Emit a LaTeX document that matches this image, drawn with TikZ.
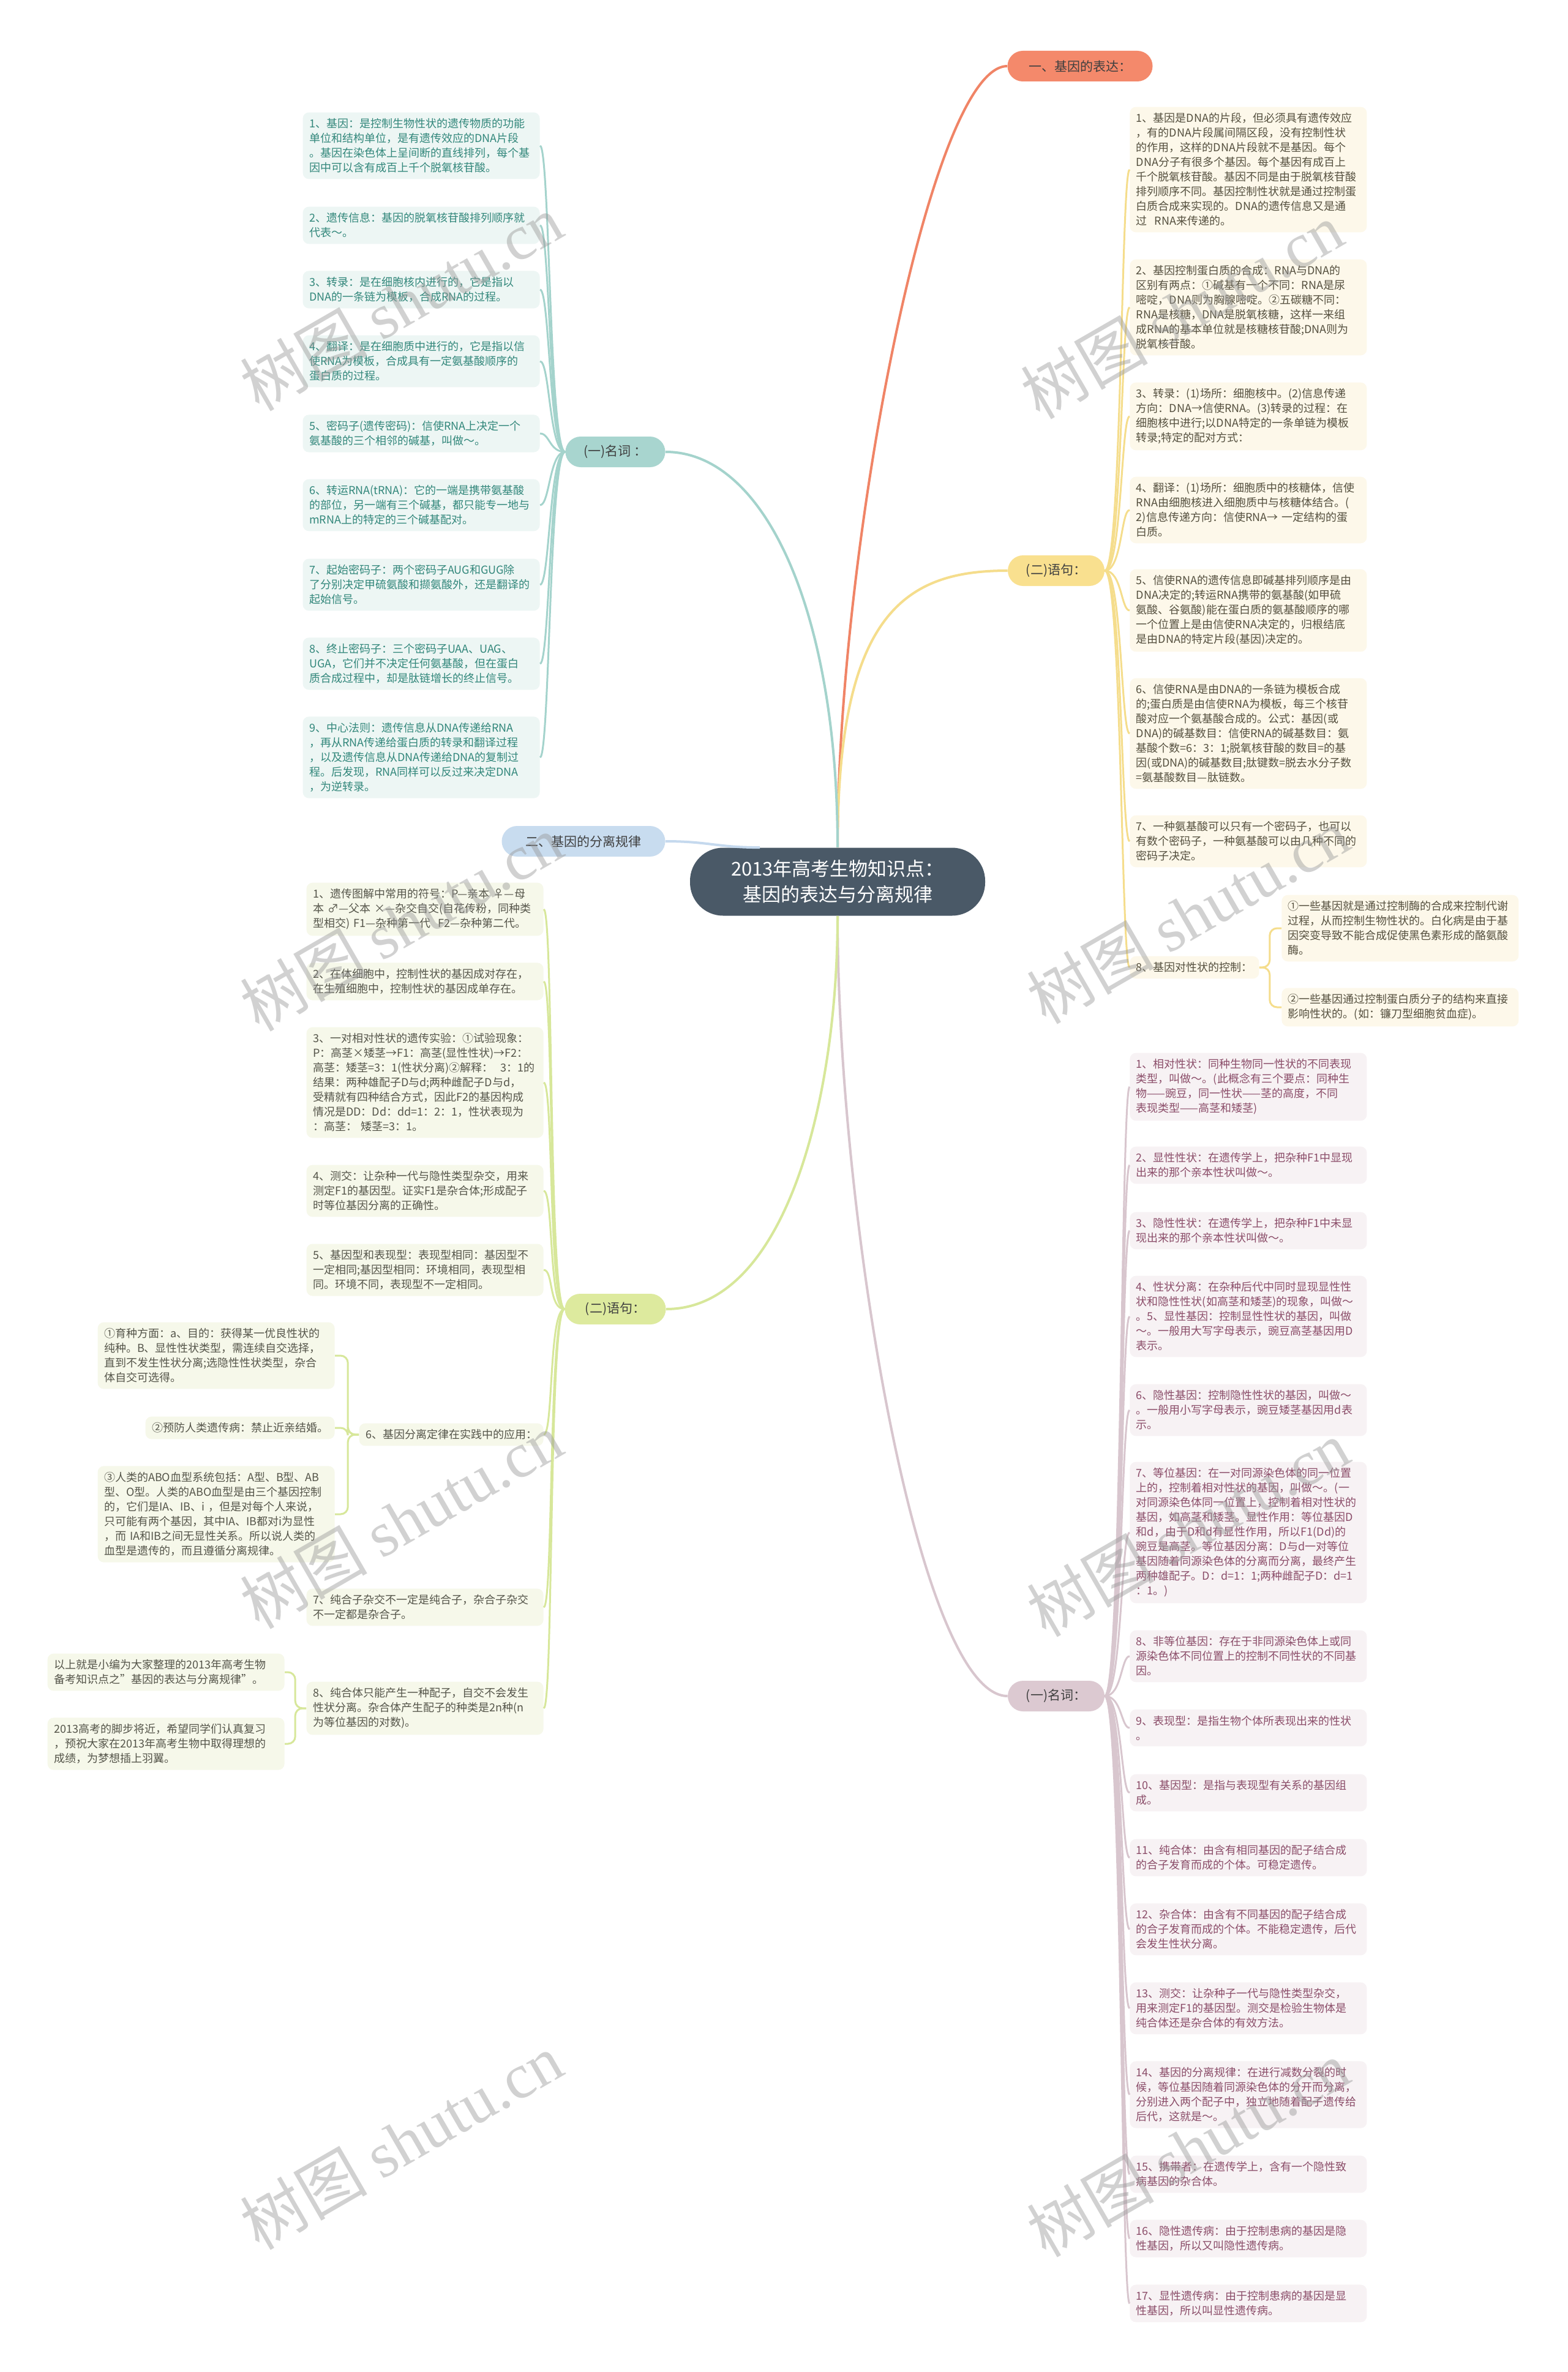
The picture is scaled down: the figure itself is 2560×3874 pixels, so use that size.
\documentclass[tikz,border=0pt]{standalone}
\usepackage{graphicx}
\usepackage{fontspec}
\setmainfont{Noto Sans CJK SC}
\newfontfamily\wmlatin{Liberation Serif}
\usetikzlibrary{calc}
\definecolor{cnode}{HTML}{4A5967}
\definecolor{orfill}{HTML}{F4896B}
\definecolor{orline}{HTML}{F08466}
\definecolor{yfill}{HTML}{F9E08F}
\definecolor{yline}{HTML}{F5DD8C}
\definecolor{ybox}{HTML}{FDF8EA}
\definecolor{ytext}{HTML}{55503F}
\definecolor{pfill}{HTML}{DCC9D1}
\definecolor{pline}{HTML}{D8C6CE}
\definecolor{pbox}{HTML}{F7F2F4}
\definecolor{ptext}{HTML}{8B4D69}
\definecolor{tfill}{HTML}{A8D5CF}
\definecolor{tline}{HTML}{A4D3CC}
\definecolor{tbox}{HTML}{EDF6F4}
\definecolor{ttext}{HTML}{32877B}
\definecolor{bfill}{HTML}{C8DCEF}
\definecolor{bline}{HTML}{C5D9EE}
\definecolor{gfill}{HTML}{DDEA9E}
\definecolor{gline}{HTML}{D7E79A}
\definecolor{gbox}{HTML}{F6F8EA}
\definecolor{gtext}{HTML}{55554A}
\definecolor{pilltext}{HTML}{3F3F3F}
\newcommand{\tridash}{\scalebox{0.67}[1]{———}}
\tikzset{
  boxbase/.style={rectangle, rounded corners=5pt, inner xsep=5.25pt, inner ysep=5pt,
    font=\fontsize{9pt}{12pt}\selectfont, align=left},
  wide/.style={text width=183pt},
  tealbox/.style={boxbase, fill=tbox, text=ttext},
  yelbox/.style={boxbase, fill=ybox, text=ytext},
  pinkbox/.style={boxbase, fill=pbox, text=ptext},
  greenbox/.style={boxbase, fill=gbox, text=gtext},
  pill/.style={rectangle, rounded corners=12.5pt, minimum height=25pt, inner sep=2pt,
    font=\fontsize{10.5pt}{12pt}\selectfont, text=pilltext},
  mainline/.style={line width=2pt},
  subline/.style={line width=1.5pt},
  wm/.style={text=black!40, opacity=0.45, rotate=30, font=\fontsize{52pt}{52pt}\selectfont},
}
\begin{document}
\begin{tikzpicture}[x=0.5pt,y=-0.5pt]
\path[use as bounding box, fill=white] (0,0) rectangle (2560,3874);

% ---------- center and main branches ----------
\node[rectangle, rounded corners=27pt, fill=cnode, text=white, minimum width=241pt, minimum height=55.5pt,
  align=center, font=\fontsize{15.5pt}{21pt}\selectfont] (c) at (1368,1440) {2013年高考生物知识点：\\基因的表达与分离规律};

\node[pill, fill=orfill, minimum width=118.5pt] (or) at (1764,108) {一、基因的表达：};
\node[pill, fill=yfill, minimum width=79pt] (ys) at (1725,932) {(二)语句：};
\node[pill, fill=pfill, minimum width=79pt] (pk) at (1725,2770) {(一)名词：};
\node[pill, fill=tfill, minimum width=81.5pt] (tl) at (1005,738) {(一)名词 ：};
\node[pill, fill=bfill, minimum width=133.5pt] (bl) at (953,1374) {二、基因的分离规律};
\node[pill, fill=gfill, minimum width=82.5pt] (gr) at (1005,2138) {(二)语句：};

\draw[mainline, orline] (c.north) .. controls +(0,-484) and +(-126,0) .. (or.west);
\draw[mainline, yline] (c.north) .. controls +(0,-384) and +(-166,0) .. (ys.west);
\draw[mainline, pline] (c.south) .. controls +(0,485) and +(-146,0) .. (pk.west);
\draw[mainline, tline] (c.north) .. controls +(0,-384) and +(163,0) .. (tl.east);
\draw[mainline, gline] (c.south) .. controls +(0,305) and +(193,0) .. (gr.east);
\coordinate (cbl) at ($(c.north)+(-127,0)$);
\draw[mainline, bline] (bl.east) .. controls +(70,0) and +(-70,0) .. (cbl);

% ---------- left teal: (一)名词 ----------
\node[tealbox, wide, anchor=east] (L1) at (882,238) {1、基因：是控制生物性状的遗传物质的功能\\单位和结构单位，是有遗传效应的DNA片段\\。基因在染色体上呈间断的直线排列，每个基\\因中可以含有成百上千个脱氧核苷酸。};
\node[tealbox, wide, anchor=east] (L2) at (882,368) {2、遗传信息：基因的脱氧核苷酸排列顺序就\\代表～。};
\node[tealbox, wide, anchor=east] (L3) at (882,473) {3、转录：是在细胞核内进行的，它是指以\\DNA的一条链为模板，合成RNA的过程。};
\node[tealbox, wide, anchor=east] (L4) at (882,590) {4、翻译：是在细胞质中进行的，它是指以信\\使RNA为模板，合成具有一定氨基酸顺序的\\蛋白质的过程。};
\node[tealbox, wide, anchor=east] (L5) at (882,708) {5、密码子(遗传密码)：信使RNA上决定一个\\氨基酸的三个相邻的碱基，叫做～。};
\node[tealbox, wide, anchor=east] (L6) at (882,825) {6、转运RNA(tRNA)：它的一端是携带氨基酸\\的部位，另一端有三个碱基，都只能专一地与\\mRNA上的特定的三个碱基配对。};
\node[tealbox, wide, anchor=east] (L7) at (882,955) {7、起始密码子：两个密码子AUG和GUG除\\了分别决定甲硫氨酸和撷氨酸外，还是翻译的\\起始信号。};
\node[tealbox, wide, anchor=east] (L8) at (882,1084) {8、终止密码子：三个密码子UAA、UAG、\\UGA，它们并不决定任何氨基酸，但在蛋白\\质合成过程中，却是肽链增长的终止信号。};
\node[tealbox, wide, anchor=east] (L9) at (882,1237) {9、中心法则：遗传信息从DNA传递给RNA\\，再从RNA传递给蛋白质的转录和翻译过程\\，以及遗传信息从DNA传递给DNA的复制过\\程。后发现，RNA同样可以反过来决定DNA\\，为逆转录。};
\foreach \n in {L1,L2,L3,L4,L5,L6,L7,L8,L9}
  \draw[subline, tline] (tl.west) .. controls +(-26,0) and +(16,0) .. (\n.east);

% ---------- right yellow: (二)语句 ----------
\node[yelbox, wide, anchor=west] (R1) at (1845,277) {1、基因是DNA的片段，但必须具有遗传效应\\，有的DNA片段属间隔区段，没有控制性状\\的作用，这样的DNA片段就不是基因。每个\\DNA分子有很多个基因。每个基因有成百上\\千个脱氧核苷酸。基因不同是由于脱氧核苷酸\\排列顺序不同。基因控制性状就是通过控制蛋\\白质合成来实现的。DNA的遗传信息又是通\\过\ \ RNA来传递的。};
\node[yelbox, wide, anchor=west] (R2) at (1845,502) {2、基因控制蛋白质的合成：RNA与DNA的\\区别有两点：①碱基有一个不同：RNA是尿\\嘧啶，DNA则为胸腺嘧啶。②五碳糖不同：\\RNA是核糖，DNA是脱氧核糖，这样一来组\\成RNA的基本单位就是核糖核苷酸;DNA则为\\脱氧核苷酸。};
\node[yelbox, wide, anchor=west] (R3) at (1845,680) {3、转录：(1)场所：细胞核中。(2)信息传递\\方向：DNA→信使RNA。(3)转录的过程：在\\细胞核中进行;以DNA特定的一条单链为模板\\转录;特定的配对方式：};
\node[yelbox, wide, anchor=west] (R4) at (1845,833) {4、翻译：(1)场所：细胞质中的核糖体，信使\\RNA由细胞核进入细胞质中与核糖体结合。(\\2)信息传递方向：信使RNA→ 一定结构的蛋\\白质。};
\node[yelbox, wide, anchor=west] (R5) at (1845,997) {5、信使RNA的遗传信息即碱基排列顺序是由\\DNA决定的;转运RNA携带的氨基酸(如甲硫\\氨酸、谷氨酸)能在蛋白质的氨基酸顺序的哪\\一个位置上是由信使RNA决定的，归根结底\\是由DNA的特定片段(基因)决定的。};
\node[yelbox, wide, anchor=west] (R6) at (1845,1198) {6、信使RNA是由DNA的一条链为模板合成\\的;蛋白质是由信使RNA为模板，每三个核苷\\酸对应一个氨基酸合成的。公式：基因(或\\DNA)的碱基数目：信使RNA的碱基数目：氨\\基酸个数=6：3：1;脱氧核苷酸的数目=的基\\因(或DNA)的碱基数目;肽键数=脱去水分子数\\=氨基酸数目—肽链数。};
\node[yelbox, wide, anchor=west] (R7) at (1845,1374) {7、一种氨基酸可以只有一个密码子，也可以\\有数个密码子，一种氨基酸可以由几种不同的\\密码子决定。};
\node[yelbox, anchor=west] (R8) at (1845,1580) {8、基因对性状的控制：};
\node[yelbox, wide, anchor=west] (R8a) at (2093,1516) {①一些基因就是通过控制酶的合成来控制代谢\\过程，从而控制生物性状的。白化病是由于基\\因突变导致不能合成促使黑色素形成的酪氨酸\\酶。};
\node[yelbox, wide, anchor=west] (R8b) at (2093,1645) {②一些基因通过控制蛋白质分子的结构来直接\\影响性状的。(如：镰刀型细胞贫血症)。};
\foreach \n in {R1,R2,R3,R4,R5,R6,R7,R8}
  \draw[subline, yline] (ys.east) .. controls +(28,0) and +(-14,0) .. (\n.west);
\draw[subline, yline, rounded corners=6pt] (R8.east) -- ++(17,0) |- (R8a.west);
\draw[subline, yline, rounded corners=6pt] (R8.east) -- ++(17,0) |- (R8b.west);

% ---------- right pink: (一)名词 ----------
\node[pinkbox, wide, anchor=west] (P1) at (1845,1775) {1、相对性状：同种生物同一性状的不同表现\\类型，叫做～。(此概念有三个要点：同种生\\\mbox{物\tridash 豌豆，同一性状\tridash 茎的高度，不同}\\\mbox{表现类型\tridash 高茎和矮茎)}};
\node[pinkbox, wide, anchor=west] (P2) at (1845,1903) {2、显性性状：在遗传学上，把杂种F1中显现\\出来的那个亲本性状叫做～。};
\node[pinkbox, wide, anchor=west] (P3) at (1845,2010) {3、隐性性状：在遗传学上，把杂种F1中未显\\现出来的那个亲本性状叫做～。};
\node[pinkbox, wide, anchor=west] (P4) at (1845,2150) {4、性状分离：在杂种后代中同时显现显性性\\状和隐性性状(如高茎和矮茎)的现象，叫做～\\。5、显性基因：控制显性性状的基因，叫做\\～。一般用大写字母表示，豌豆高茎基因用D\\表示。};
\node[pinkbox, wide, anchor=west] (P5) at (1845,2303) {6、隐性基因：控制隐性性状的基因，叫做～\\。一般用小写字母表示，豌豆矮茎基因用d表\\示。};
\node[pinkbox, wide, anchor=west] (P6) at (1845,2503) {7、等位基因：在一对同源染色体的同一位置\\上的，控制着相对性状的基因，叫做～。(一\\对同源染色体同一位置上，控制着相对性状的\\基因，如高茎和矮茎。显性作用：等位基因D\\和d，由于D和d有显性作用，所以F1(Dd)的\\豌豆是高茎。等位基因分离：D与d一对等位\\基因随着同源染色体的分离而分离，最终产生\\两种雄配子。D：d=1：1;两种雌配子D：d=1\\：1。)};
\node[pinkbox, wide, anchor=west] (P7) at (1845,2705) {8、非等位基因：存在于非同源染色体上或同\\源染色体不同位置上的控制不同性状的不同基\\因。};
\node[pinkbox, wide, anchor=west] (P8) at (1845,2822) {9、表现型：是指生物个体所表现出来的性状\\。};
\node[pinkbox, wide, anchor=west] (P9) at (1845,2928) {10、基因型：是指与表现型有关系的基因组\\成。};
\node[pinkbox, wide, anchor=west] (P10) at (1845,3034) {11、纯合体：由含有相同基因的配子结合成\\的合子发育而成的个体。可稳定遗传。};
\node[pinkbox, wide, anchor=west] (P11) at (1845,3151) {12、杂合体：由含有不同基因的配子结合成\\的合子发育而成的个体。不能稳定遗传，后代\\会发生性状分离。};
\node[pinkbox, wide, anchor=west] (P12) at (1845,3280) {13、测交：让杂种子一代与隐性类型杂交，\\用来测定F1的基因型。测交是检验生物体是\\纯合体还是杂合体的有效方法。};
\node[pinkbox, wide, anchor=west] (P13) at (1845,3421) {14、基因的分离规律：在进行减数分裂的时\\候，等位基因随着同源染色体的分开而分离，\\分别进入两个配子中，独立地随着配子遗传给\\后代，这就是～。};
\node[pinkbox, wide, anchor=west] (P14) at (1845,3551) {15、携带者：在遗传学上，含有一个隐性致\\病基因的杂合体。};
\node[pinkbox, wide, anchor=west] (P15) at (1845,3656) {16、隐性遗传病：由于控制患病的基因是隐\\性基因，所以又叫隐性遗传病。};
\node[pinkbox, wide, anchor=west] (P16) at (1845,3762) {17、显性遗传病：由于控制患病的基因是显\\性基因，所以叫显性遗传病。};
\foreach \n in {P1,P2,P3,P4,P5,P6,P7,P8,P9,P10,P11,P12,P13,P14,P15,P16}
  \draw[subline, pline] (pk.east) .. controls +(28,0) and +(-14,0) .. (\n.west);

% ---------- left green: (二)语句 ----------
\node[greenbox, wide, anchor=east] (G1) at (888,1485) {1、遗传图解中常用的符号：P—亲本 ♀—母\\本 ♂—父本 ×—杂交自交(自花传粉，同种类\\型相交) F1—杂种第一代\ \ F2—杂种第二代。};
\node[greenbox, wide, anchor=east] (G2) at (888,1603) {2、在体细胞中，控制性状的基因成对存在，\\在生殖细胞中，控制性状的基因成单存在。};
\node[greenbox, wide, anchor=east] (G3) at (888,1768) {3、一对相对性状的遗传实验：①试验现象：\\P：高茎×矮茎→F1：高茎(显性性状)→F2：\\高茎：矮茎=3：1(性状分离)②解释：\ \ 3：1的\\结果：两种雄配子D与d;两种雌配子D与d，\\受精就有四种结合方式，因此F2的基因构成\\情况是DD：Dd：dd=1：2：1，性状表现为\\：高茎：\ 矮茎=3：1。};
\node[greenbox, wide, anchor=east] (G4) at (888,1945) {4、测交：让杂种一代与隐性类型杂交，用来\\测定F1的基因型。证实F1是杂合体;形成配子\\时等位基因分离的正确性。};
\node[greenbox, wide, anchor=east] (G5) at (888,2074) {5、基因型和表现型：表现型相同：基因型不\\一定相同;基因型相同：环境相同，表现型相\\同。环境不同，表现型不一定相同。};
\node[greenbox, anchor=east] (G6) at (888,2343) {6、基因分离定律在实践中的应用：};
\node[greenbox, wide, anchor=east] (G6a) at (547,2214) {①育种方面：a、目的：获得某一优良性状的\\纯种。B、显性性状类型，需连续自交选择，\\直到不发生性状分离;选隐性性状类型，杂合\\体自交可选得。};
\node[greenbox, anchor=east] (G6b) at (547,2332) {②预防人类遗传病：禁止近亲结婚。};
\node[greenbox, wide, anchor=east] (G6c) at (547,2473) {③人类的ABO血型系统包括：A型、B型、AB\\型、O型。人类的ABO血型是由三个基因控制\\的，它们是IA、IB、i ，但是对每个人来说，\\只可能有两个基因，其中IA、IB都对i为显性\\，而 IA和IB之间无显性关系。所以说人类的\\血型是遗传的，而且遵循分离规律。};
\node[greenbox, wide, anchor=east] (G7) at (888,2625) {7、纯合子杂交不一定是纯合子，杂合子杂交\\不一定都是杂合子。};
\node[greenbox, wide, anchor=east] (G8) at (888,2790) {8、纯合体只能产生一种配子，自交不会发生\\性状分离。杂合体产生配子的种类是2n种(n\\为等位基因的对数)。};
\node[greenbox, wide, anchor=east] (G8a) at (465,2731) {以上就是小编为大家整理的2013年高考生物\\备考知识点之"基因的表达与分离规律"。};
\node[greenbox, wide, anchor=east] (G8b) at (465,2848) {2013高考的脚步将近，希望同学们认真复习\\，预祝大家在2013年高考生物中取得理想的\\成绩，为梦想插上羽翼。};
\foreach \n in {G1,G2,G3,G4,G5,G6,G7,G8}
  \draw[subline, gline] (gr.west) .. controls +(-26,0) and +(16,0) .. (\n.east);
\foreach \n in {G6a,G6b,G6c}
  \draw[subline, gline, rounded corners=6pt] (G6.west) -- ++(-18,0) |- (\n.east);
\foreach \n in {G8a,G8b}
  \draw[subline, gline, rounded corners=6pt] (G8.west) -- ++(-18,0) |- (\n.east);

% ---------- watermarks ----------
\node[wm] (wm1) at (655,494) {树图 {\wmlatin shutu.cn}};
\node[wm] (wm2) at (1930,507) {树图 {\wmlatin shutu.cn}};
\node[wm] (wm3) at (655,1507) {树图 {\wmlatin shutu.cn}};
\node[wm] (wm4) at (1940,1495) {树图 {\wmlatin shutu.cn}};
\node[wm] (wm5) at (655,2483) {树图 {\wmlatin shutu.cn}};
\node[wm] (wm6) at (1940,2496) {树图 {\wmlatin shutu.cn}};
\node[wm] (wm7) at (655,3497) {树图 {\wmlatin shutu.cn}};
\node[wm] (wm8) at (1940,3509) {树图 {\wmlatin shutu.cn}};
\end{tikzpicture}
\end{document}
